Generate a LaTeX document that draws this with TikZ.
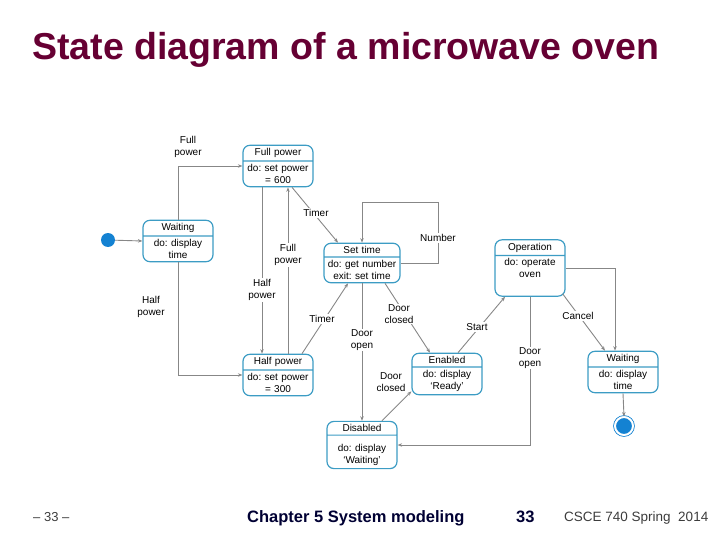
\documentclass[tikz,border=0pt]{standalone}
\usepackage{fontspec}
\setmainfont{Liberation Sans}
\usepackage{xcolor}
\usetikzlibrary{arrows.meta,positioning,calc,shapes.multipart}

\definecolor{titlecol}{RGB}{102,0,51}
\definecolor{statecol}{RGB}{60,156,196}
\definecolor{linecol}{RGB}{135,135,135}
\definecolor{dotcol}{RGB}{20,130,210}
\definecolor{navy}{RGB}{0,0,51}
\definecolor{footgray}{RGB}{60,60,60}

\tikzset{
	state/.style={rectangle split, rectangle split parts=2, draw=statecol, line width=1.2pt,
		rounded corners=7pt, fill=white, align=center, text width=64pt, inner xsep=3pt,
		inner ysep=2.6pt, font=\fontsize{10}{12}\selectfont},
	lbl/.style={font=\fontsize{10}{12}\selectfont, align=center, fill=white, inner sep=1pt},
	arr/.style={draw=linecol, line width=0.9pt, -{Stealth[length=4.5pt,width=3.5pt]}},
	startdot/.style={circle, fill=dotcol, minimum size=14pt, inner sep=0pt},
	enddot/.style={circle, fill=dotcol, draw=dotcol, line width=0.8pt, double=white,
		double distance=2pt, minimum size=18pt, inner sep=0pt},
}

\begin{document}
\frenchspacing
\begin{tikzpicture}[x=1pt,y=-1pt]
	\useasboundingbox (0,0) rectangle (720,540);
	
	% slide title
	\node[anchor=base west, inner sep=0pt, text=titlecol, font=\fontsize{37.5}{42}\selectfont\bfseries]
		(title) at (32,60) {State diagram of a microwave oven};
	
	% states
	\node[startdot] (init) at (108,240) {};
	\node[state] (waitl) at (178,241) {Waiting \nodepart{two} do: display\\time};
	\node[state] (fullpw) at (278,166) {Full power \nodepart{two} do: set power\\= 600};
	\node[state] (halfpw) at (278,375) {Half power \nodepart{two} do: set power\\= 300};
	\node[state, text width=70pt] (settime) at (362,263) {Set time \nodepart{two} do: get number\\exit: set time};
	\node[state] (oper) at (530,268) {Operation \nodepart{two} do: operate\\oven\rule[-15pt]{0pt}{0pt}};
	\node[state] (enabl) at (447,374) {Enabled \nodepart{two} do: display\\`Ready'};
	\node[state] (disabl) at (362,445) {Disabled \nodepart{two} \rule{0pt}{13pt}do: display\\`Waiting'};
	\node[state] (waitr) at (623,372) {Waiting \nodepart{two} do: display\\time};
	\node[enddot] (fin) at (624,426) {};
	
	% bends
	\coordinate (numtop) at (438,202);
	
	% transitions
	\draw[arr] (init) -- (waitl.west);
	\draw[arr] (waitl.north) |- (fullpw.west);
	\draw[arr] (waitl.south) |- (halfpw.west);
	\draw[arr] ([xshift=-16pt]fullpw.south) -- ([xshift=-16pt]halfpw.north);
	\draw[arr] ([xshift=10pt]halfpw.north) -- ([xshift=10pt]fullpw.south);
	\draw[arr] ([xshift=14pt]fullpw.south) -- ([xshift=-24pt]settime.north);
	\draw[arr] ([xshift=24pt]halfpw.north) -- ([xshift=-14pt]settime.south);
	\draw[arr] (settime.east) -| (numtop) -| (settime.north);
	\draw[arr] (settime.south) -- (disabl.north);
	\draw[arr] ([xshift=23pt]settime.south) -- ([xshift=-17pt]enabl.north);
	\draw[arr] ([xshift=20pt]disabl.north) -- ([yshift=4pt]enabl.south west);
	\draw[arr] ([xshift=11pt]enabl.north) -- ([xshift=-25pt]oper.south);
	\draw[arr] (oper.south) |- (disabl.east);
	\draw[arr] ([xshift=-3pt,yshift=3pt]oper.south east) -- ([xshift=-18pt]waitr.north);
	\draw[arr] (oper.east) -| ([xshift=-8pt]waitr.north);
	\draw[arr] (waitr.south) -- (fin.north);
	
	% transition labels
	\node[lbl] (lfull1) at (188,147) {Full\\power};
	\node[lbl] (lhalf1) at (151,307) {Half\\power};
	\node[lbl] (lhalf2) at (262,290) {Half\\power};
	\node[lbl] (lfull2) at (288,255) {Full\\power};
	\node[lbl] (ltimer1) at (316,213) {Timer};
	\node[lbl] (ltimer2) at (322,319) {Timer};
	\node[lbl] (lnumber) at (438,238) {Number};
	\node[lbl] (lopen1) at (362,340) {Door\\open};
	\node[lbl] (lclosed1) at (399,314) {Door\\closed};
	\node[lbl] (lclosed2) at (391,382) {Door\\closed};
	\node[lbl] (lstart) at (477,327) {Start};
	\node[lbl] (lopen2) at (530,358) {Door\\open};
	\node[lbl] (lcancel) at (578,316) {Cancel};
	
	% footer
	\node[anchor=base west, inner sep=0pt, text=footgray, font=\fontsize{13}{15}\selectfont]
		(pagel) at (33,521) {– 33 –};
	\node[anchor=base west, inner sep=0pt, text=navy, font=\fontsize{16.5}{19}\selectfont\bfseries]
		(chap) at (247,522) {Chapter 5 System modeling};
	\node[anchor=base west, inner sep=0pt, text=navy, font=\fontsize{16.5}{19}\selectfont\bfseries]
		(pagen) at (516,522) {33};
	\node[anchor=base west, inner sep=0pt, text=footgray, font=\fontsize{13.5}{15}\selectfont]
		(course) at (564,521) {CSCE 740 Spring\ \ 2014};
\end{tikzpicture}
\end{document}
